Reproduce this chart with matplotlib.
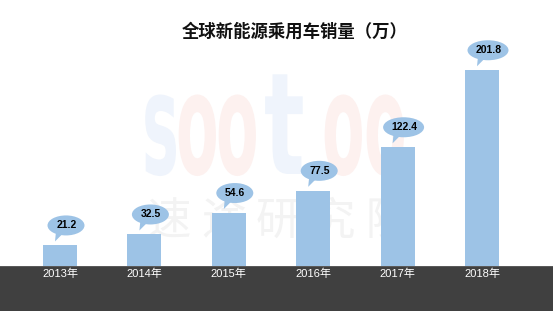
import matplotlib
matplotlib.use("Agg")
import matplotlib.pyplot as plt
from matplotlib.patches import Ellipse, Polygon, Rectangle, PathPatch
from matplotlib.textpath import TextPath
from matplotlib.font_manager import FontProperties
from matplotlib.transforms import Affine2D, ScaledTranslation, blended_transform_factory

years = ['2013年', '2014年', '2015年', '2016年', '2017年', '2018年']
sales = [21.2, 32.5, 54.6, 77.5, 122.4, 201.8]
title = '全球新能源乘用车销量（万）'

bar_color = '#9dc3e6'
band_color = '#404040'

fig = plt.figure(figsize=(5.53, 3.11), dpi=100)
fig.patch.set_facecolor('white')

# 水印 logo: 字母横向压缩 (像素坐标)
logo = [('s', 142, '#eff4fc'), ('o', 176, '#fdf1ef'), ('o', 216, '#fdf1ef'),
        ('t', 264, '#eff4fc'), ('o', 322, '#fdf1ef'), ('o', 364, '#fdf1ef')]
fp = FontProperties(family='DejaVu Sans', weight='bold')
for ch, px, c in logo:
    path = TextPath((0, 0), ch, size=100, prop=fp)
    sx = 0.85 if ch == 't' else 0.62
    tf = Affine2D().scale(sx, 1.42).translate(px, 311 - 174)
    fig.patches.append(PathPatch(path, transform=tf, facecolor=c,
                                 edgecolor='none', zorder=0))
for k, ch in enumerate('速途研究院'):
    fig.text((168 + 55 * k) / 553, 1 - 221 / 311, ch, fontsize=32, color='#f3f3f3',
             ha='center', va='center', family='Noto Sans CJK SC', zorder=0)

# 底部深色带
fig.patches.append(Rectangle((0, 0), 1, 45 / 311, transform=fig.transFigure,
                             facecolor=band_color, edgecolor='none', zorder=1))
fig.patches.append(Rectangle((0, 44 / 311), 1, 1.2 / 311, transform=fig.transFigure,
                             facecolor='#5a5a5a', edgecolor='none', zorder=1))

ax = fig.add_axes([0, 45 / 311, 1, 266 / 311])
ax.set_zorder(2)
ax.patch.set_alpha(0)
ax.axis('off')
x = list(range(len(years)))
ax.bar(x, sales, width=34 / 84.4, color=bar_color, zorder=2)
ax.set_xlim(-60 / 84.4, (553 - 60) / 84.4)
ax.set_ylim(0, 266 / 0.97)

# 气泡标注
for xi, v in zip(x, sales):
    off = fig.dpi_scale_trans + ScaledTranslation(xi, v, ax.transData)
    lbl = f'{v:.1f}'
    w = 0.41 if len(lbl) > 4 else 0.37
    ax.add_patch(Ellipse((0.06, 0.20), w, 0.20, transform=off,
                         facecolor=bar_color, edgecolor='none', zorder=3, clip_on=False))
    ax.add_patch(Polygon([(-0.04, 0.14), (0.03, 0.12), (-0.05, 0.04)], closed=True,
                         transform=off, facecolor=bar_color, edgecolor='none',
                         zorder=3, clip_on=False))
    ax.text(0.065, 0.20, lbl, transform=off, ha='center', va='center',
            fontsize=7.5, fontweight='bold', color='black',
            family='Liberation Sans', zorder=4)

# 年份标签
tr = blended_transform_factory(ax.transData, fig.transFigure)
for xi, y in zip(x, years):
    ax.text(xi, 1 - 274 / 311, y, transform=tr, ha='center', va='center',
            fontsize=8, color='white', family=['Liberation Sans', 'Noto Sans CJK SC'],
            zorder=5, clip_on=False)

fig.text(295 / 553, 1 - 32 / 311, title, ha='center', va='center', fontsize=12.5,
         fontweight='bold', color='#111111', family='Noto Sans CJK SC')

fig.savefig('out.png', dpi=100, facecolor='white')
